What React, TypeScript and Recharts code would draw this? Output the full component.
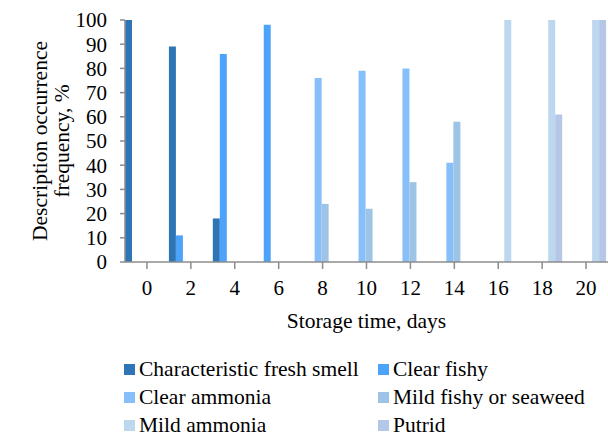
import { Bar, BarChart, Label, XAxis, YAxis } from "recharts";

document.body.style.margin = "0";

const days = ["0", "2", "4", "6", "8", "10", "12", "14", "16", "18", "20"];

const freshSmell = [100, 89, 18, 0, 0, 0, 0, 0, 0, 0, 0];
const clearFishy = [0, 11, 86, 98, 0, 0, 0, 0, 0, 0, 0];
const clearAmmonia = [0, 0, 0, 0, 76, 79, 80, 41, 0, 0, 0];
const mildFishy = [0, 0, 0, 0, 24, 22, 33, 58, 0, 0, 0];
const mildAmmonia = [0, 0, 0, 0, 0, 0, 0, 0, 100, 100, 100];
const putrid = [0, 0, 0, 0, 0, 0, 0, 0, 0, 61, 100];

const yTicks = [0, 10, 20, 30, 40, 50, 60, 70, 80, 90, 100];

const series = [
  { key: "fresh", name: "Characteristic fresh smell", color: "#2e75b6", values: freshSmell },
  { key: "clearFishy", name: "Clear fishy", color: "#4da3fa", values: clearFishy },
  { key: "clearAmmonia", name: "Clear ammonia", color: "#86bff9", values: clearAmmonia },
  { key: "mildFishy", name: "Mild fishy or seaweed", color: "#9dc3e6", values: mildFishy },
  { key: "mildAmmonia", name: "Mild ammonia", color: "#bdd7ee", values: mildAmmonia },
  { key: "putrid", name: "Putrid", color: "#b4c7e7", values: putrid },
];

const chartData = days.map((day, i) => {
  const row: Record<string, string | number> = { day };
  series.forEach((s) => {
    row[s.key] = s.values[i];
  });
  return row;
});

const FONT = "'Liberation Serif', 'Times New Roman', serif";
const AXIS = "#8c8c8c";

function YTitle({ viewBox }: any) {
  const cy = viewBox.y + viewBox.height / 2;
  return (
    <g fontSize={21.5} fill="#000" fontFamily={FONT} textAnchor="middle">
      <text x={40} y={cy} transform={`rotate(-90 40 ${cy})`} dominantBaseline="central">
        Description occurrence
      </text>
      <text x={62} y={cy} transform={`rotate(-90 62 ${cy})`} dominantBaseline="central">
        frequency, %
      </text>
    </g>
  );
}

function XTitle({ viewBox }: any) {
  return (
    <text
      x={viewBox.x + viewBox.width / 2}
      y={viewBox.y + 66}
      textAnchor="middle"
      fontSize={21.5}
      fontFamily={FONT}
      fill="#000"
    >
      Storage time, days
    </text>
  );
}

export default function App() {
  return (
    <div style={{ position: "relative", width: 608, height: 439, background: "#fff", fontFamily: FONT }}>
      <BarChart
        width={608}
        height={439}
        data={chartData}
        margin={{ top: 20, right: 0, left: 0, bottom: 176 }}
        barCategoryGap={0}
        barGap={0}
      >
        <XAxis
          dataKey="day"
          height={1}
          stroke={AXIS}
          strokeWidth={1.5}
          tickSize={7}
          tickMargin={11}
          interval={0}
          tick={{ fill: "#000", fontSize: 21, fontFamily: FONT }}
        >
          <Label content={XTitle} />
        </XAxis>
        <YAxis
          width={125}
          domain={[0, 100]}
          ticks={yTicks}
          interval={0}
          stroke={AXIS}
          strokeWidth={1.5}
          tickSize={5}
          tickMargin={13}
          tick={{ fill: "#000", fontSize: 21, fontFamily: FONT }}
        >
          <Label content={YTitle} />
        </YAxis>
        {series.map((s) => (
          <Bar key={s.key} dataKey={s.key} name={s.name} fill={s.color} isAnimationActive={false} />
        ))}
      </BarChart>
      <div
        style={{
          position: "absolute",
          left: 124,
          top: 358,
          display: "grid",
          gridTemplateColumns: "254px auto",
          rowGap: 6,
          fontSize: 21.5,
          lineHeight: "22px",
          color: "#000",
        }}
      >
        {series.map((s) => (
          <div key={s.key} style={{ display: "flex", alignItems: "center", whiteSpace: "nowrap" }}>
            <span style={{ display: "inline-block", width: 11, height: 11, background: s.color, marginRight: 4 }} />
            {s.name}
          </div>
        ))}
      </div>
    </div>
  );
}
